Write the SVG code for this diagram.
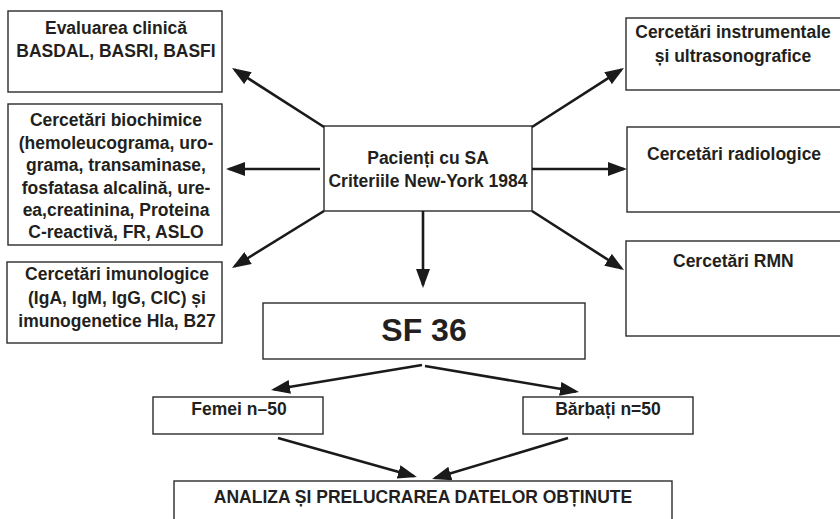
<svg xmlns="http://www.w3.org/2000/svg" width="840" height="519" viewBox="0 0 840 519">
<defs>
<style>
.box{fill:#fff;stroke:#2b2b2b;stroke-width:1.4}
.t{font-family:"Liberation Sans",Arial,sans-serif;font-weight:bold;font-size:17.5px;fill:#231f20;text-anchor:middle}
.ts{text-anchor:start}
.big{font-size:32px}
.c line{stroke:#1a1a1a;stroke-width:2.6;marker-end:url(#ah)}
</style>
<marker id="ah" markerUnits="userSpaceOnUse" markerWidth="19" markerHeight="14" refX="16" refY="7" orient="auto">
<path d="M0,0 L19,7 L0,14 z" fill="#1a1a1a"/>
</marker>
</defs>
<rect width="840" height="519" fill="#fff"/>
<g id="n-clinic">
<rect class="box" x="8" y="11" width="214" height="81"/>
<text class="t" x="116" y="34">Evaluarea clinică</text>
<text class="t" x="116" y="57">BASDAL, BASRI, BASFI</text>
</g>
<g id="n-biochim">
<rect class="box" x="8" y="104" width="214" height="141"/>
<text class="t" x="116" y="126">Cercetări biochimice</text>
<text class="t" x="116" y="148.5">(hemoleucograma, uro-</text>
<text class="t" x="116" y="171">grama, transaminase,</text>
<text class="t" x="116" y="193.5">fosfatasa alcalină, ure-</text>
<text class="t" x="116" y="216">ea,creatinina, Proteina</text>
<text class="t" x="116" y="238">C-reactivă, FR, ASLO</text>
</g>
<g id="n-imuno">
<rect class="box" x="7" y="262" width="215" height="81"/>
<text class="t" x="117" y="280">Cercetări imunologice</text>
<text class="t" x="117" y="304">(IgA, IgM, IgG, CIC) și</text>
<text class="t" x="117" y="327">imunogenetice Hla, B27</text>
</g>
<g id="n-center">
<rect class="box" x="324" y="126" width="208" height="85"/>
<text class="t" x="428" y="164">Pacienți cu SA</text>
<text class="t" x="428" y="187">Criteriile New-York 1984</text>
</g>
<g id="n-instr">
<rect class="box" x="626" y="18" width="220" height="72"/>
<text class="t" x="733" y="38">Cercetări instrumentale</text>
<text class="t" x="733" y="62">și ultrasonografice</text>
</g>
<g id="n-radio">
<rect class="box" x="627" y="127" width="220" height="85"/>
<text class="t ts" x="647" y="160">Cercetări radiologice</text>
</g>
<g id="n-rmn">
<rect class="box" x="626" y="241" width="220" height="95"/>
<text class="t ts" x="673" y="267">Cercetări RMN</text>
</g>
<g id="n-sf36">
<rect class="box" x="263" y="303" width="322" height="56"/>
<text class="t big" x="424" y="341">SF 36</text>
</g>
<g id="n-femei">
<rect class="box" x="153" y="397" width="170" height="37"/>
<text class="t" x="239" y="415">Femei n–50</text>
</g>
<g id="n-barbati">
<rect class="box" x="523" y="397" width="170" height="37"/>
<text class="t" x="608" y="415">Bărbați n=50</text>
</g>
<g id="n-analiza">
<rect class="box" x="174" y="481" width="498" height="60"/>
<text class="t" x="423" y="503">ANALIZA ȘI PRELUCRAREA DATELOR OBȚINUTE</text>
</g>
<g id="connectors" class="c">
<line x1="324" y1="127" x2="234.5" y2="69.6"/>
<line x1="320" y1="169" x2="229" y2="169"/>
<line x1="324" y1="211" x2="234.5" y2="266.4"/>
<line x1="423" y1="211" x2="423" y2="285"/>
<line x1="532" y1="127" x2="621.5" y2="69.6"/>
<line x1="532" y1="169" x2="624" y2="169"/>
<line x1="532" y1="211" x2="621.5" y2="268.4"/>
<line x1="422" y1="365" x2="274" y2="389.5"/>
<line x1="425" y1="366" x2="576" y2="391.5"/>
<line x1="278" y1="438" x2="414" y2="476.2"/>
<line x1="568" y1="438" x2="435" y2="478.1"/>
</g>
</svg>
